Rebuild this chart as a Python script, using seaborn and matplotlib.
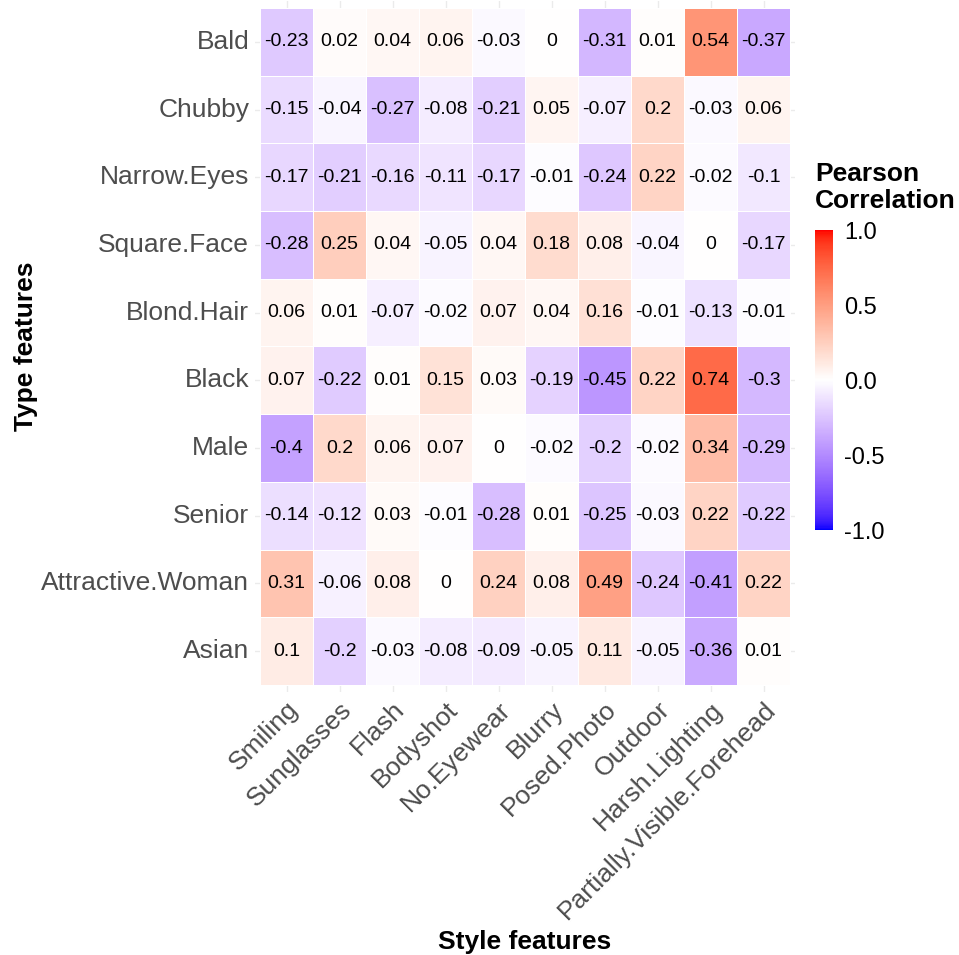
import numpy as np
import pandas as pd
import matplotlib
matplotlib.use("Agg")
import matplotlib.pyplot as plt
import seaborn as sns
from matplotlib.colors import ListedColormap

style_features = ["Smiling", "Sunglasses", "Flash", "Bodyshot", "No.Eyewear", "Blurry",
                  "Posed.Photo", "Outdoor", "Harsh.Lighting", "Partially.Visible.Forehead"]
type_features = ["Bald", "Chubby", "Narrow.Eyes", "Square.Face", "Blond.Hair", "Black",
                 "Male", "Senior", "Attractive.Woman", "Asian"]

bald = [-0.23, 0.02, 0.04, 0.06, -0.03, 0, -0.31, 0.01, 0.54, -0.37]
chubby = [-0.15, -0.04, -0.27, -0.08, -0.21, 0.05, -0.07, 0.2, -0.03, 0.06]
narrow_eyes = [-0.17, -0.21, -0.16, -0.11, -0.17, -0.01, -0.24, 0.22, -0.02, -0.1]
square_face = [-0.28, 0.25, 0.04, -0.05, 0.04, 0.18, 0.08, -0.04, 0, -0.17]
blond_hair = [0.06, 0.01, -0.07, -0.02, 0.07, 0.04, 0.16, -0.01, -0.13, -0.01]
black = [0.07, -0.22, 0.01, 0.15, 0.03, -0.19, -0.45, 0.22, 0.74, -0.3]
male = [-0.4, 0.2, 0.06, 0.07, 0, -0.02, -0.2, -0.02, 0.34, -0.29]
senior = [-0.14, -0.12, 0.03, -0.01, -0.28, 0.01, -0.25, -0.03, 0.22, -0.22]
attractive_woman = [0.31, -0.06, 0.08, 0, 0.24, 0.08, 0.49, -0.24, -0.41, 0.22]
asian = [0.1, -0.2, -0.03, -0.08, -0.09, -0.05, 0.11, -0.05, -0.36, 0.01]

rows = [bald, chubby, narrow_eyes, square_face, blond_hair, black, male, senior,
        attractive_woman, asian]
df = pd.DataFrame(rows, index=type_features, columns=style_features)

# --- Lab-interpolated diverging palette (blue - white - red), like ggplot gradient2
def srgb_to_lab(rgb):
    rgb = np.asarray(rgb, float)
    lin = np.where(rgb <= 0.04045, rgb / 12.92, ((rgb + 0.055) / 1.055) ** 2.4)
    M = np.array([[0.4124564, 0.3575761, 0.1804375],
                  [0.2126729, 0.7151522, 0.0721750],
                  [0.0193339, 0.1191920, 0.9503041]])
    xyz = lin @ M.T
    wp = np.array([0.95047, 1.0, 1.08883])
    t = xyz / wp
    d = 6 / 29
    f = np.where(t > d ** 3, np.cbrt(t), t / (3 * d * d) + 4 / 29)
    L = 116 * f[..., 1] - 16
    a = 500 * (f[..., 0] - f[..., 1])
    b = 200 * (f[..., 1] - f[..., 2])
    return np.stack([L, a, b], -1)

def lab_to_srgb(lab):
    lab = np.asarray(lab, float)
    fy = (lab[..., 0] + 16) / 116
    fx = fy + lab[..., 1] / 500
    fz = fy - lab[..., 2] / 200
    d = 6 / 29
    def finv(f):
        return np.where(f > d, f ** 3, 3 * d * d * (f - 4 / 29))
    wp = np.array([0.95047, 1.0, 1.08883])
    xyz = np.stack([finv(fx), finv(fy), finv(fz)], -1) * wp
    Minv = np.array([[3.2404542, -1.5371385, -0.4985314],
                     [-0.9692660, 1.8760108, 0.0415560],
                     [0.0556434, -0.2040259, 1.0572252]])
    lin = xyz @ Minv.T
    lin = np.clip(lin, 0, 1)
    rgb = np.where(lin <= 0.0031308, 12.92 * lin, 1.055 * lin ** (1 / 2.4) - 0.055)
    return np.clip(rgb, 0, 1)

lab_blue = srgb_to_lab([0, 0, 1])
lab_white = srgb_to_lab([1, 1, 1])
lab_red = srgb_to_lab([1, 0, 0])
n = 256
cols = []
for v in np.linspace(-1, 1, n):
    if v < 0:
        lab = lab_white + (lab_blue - lab_white) * (-v)
    else:
        lab = lab_white + (lab_red - lab_white) * v
    cols.append(lab_to_srgb(lab))
cmap = ListedColormap(cols)

W, H = 959, 955
fig = plt.figure(figsize=(W / 100, H / 100), dpi=100)
font = "Liberation Sans"
plt.rcParams["font.family"] = [font, "DejaVu Sans"]

cell_w = (790 - 260) / 10
cell_h = (685 - 8) / 10
px0 = 260 - 0.1 * cell_w
px1 = 790 + 0.1 * cell_w
py0 = 8 - 0.1 * cell_h
py1 = 685 + 0.1 * cell_h
ax = fig.add_axes([px0 / W, 1 - py1 / H, (px1 - px0) / W, (py1 - py0) / H])
cax = fig.add_axes([815 / W, 1 - 530 / H, 18 / W, 300 / H])

annot = df.map(lambda v: f"{v:g}")
sns.heatmap(df, ax=ax, cmap=cmap, vmin=-1, vmax=1, annot=annot, fmt="",
            annot_kws={"fontsize": 14, "color": "black", "family": font},
            linewidths=0.6, linecolor="white", cbar_ax=cax)

ax.set_xlim(-0.1, 10.1)
ax.set_ylim(10.1, -0.1)
ax.set_axisbelow(True)
ax.set_xticks(np.arange(10) + 0.5)
ax.set_yticks(np.arange(10) + 0.5)
ax.grid(True, color="#EBEBEB", linewidth=1)
for s in ax.spines.values():
    s.set_visible(False)
ax.tick_params(length=0, pad=4)
ax.set_yticklabels(type_features, fontsize=19, color="#4D4D4D", rotation=0)
ax.set_xticklabels(style_features, fontsize=19, color="#4D4D4D", rotation=45,
                   ha="right", va="top", rotation_mode="anchor")
ax.set_xlabel("Style features", fontsize=19, fontweight="bold", labelpad=4)
ax.set_ylabel("Type features", fontsize=19, fontweight="bold", labelpad=2)

cb = ax.collections[0].colorbar
cb.outline.set_visible(False)
cb.set_ticks([-1, -0.5, 0, 0.5, 1])
cb.set_ticklabels(["-1.0", "-0.5", "0.0", "0.5", "1.0"])
cax.tick_params(length=0, labelsize=17, pad=8, colors="black")
fig.text(815 / W, 1 - 162 / H, "Pearson\nCorrelation", fontsize=19, fontweight="bold",
         ha="left", va="top", linespacing=1.15)

fig.savefig("out.png", dpi=100)
